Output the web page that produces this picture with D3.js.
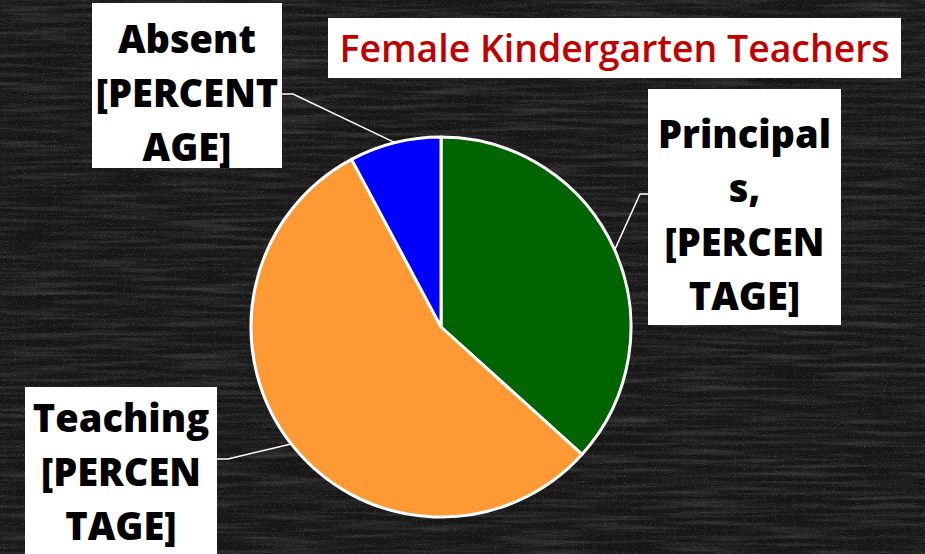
<!DOCTYPE html>
<html>
<head>
<meta charset="utf-8">
<script src="https://cdn.jsdelivr.net/npm/d3@7"></script>
<style>
  body { margin: 0; background: #1b1b1b; }
  svg { display: block; }
</style>
</head>
<body>
<div id="chart"></div>
<script>
// data
const categories = ["Principals", "Teaching", "Absent"];
const values = [36.7, 55.5, 7.8];
const colors = ["#006400", "#FF9933", "#0000FF"];
const labelLines = [
    ["Principal", "s,", "[PERCEN", "TAGE]"],
    ["Teaching", "[PERCEN", "TAGE]"],
    ["Absent", "[PERCENT", "AGE]"]
];
const title = "Female Kindergarten Teachers";

const w = 925, h = 554;
const cx = 441, cy = 327, radius = 190;
const fontSize = 38, lineHeight = 54;

// label box layout (x, y, width, height, leader y, elbow x, first baseline)
const boxes = [
    { x: 648, y: 89, bw: 193, bh: 236, ly: 194, ex: 640, base: 148 },
    { x: 25, y: 387, bw: 192, bh: 180, ly: 459, ex: 228, base: 432 },
    { x: 92, y: 3, bw: 190, bh: 165, ly: 94, ex: 293, base: 53 }
];

const svg = d3.select("#chart")
    .append("svg")
    .attr("width", w)
    .attr("height", h);

// chalkboard background
const defs = svg.append("defs");
const f = defs.append("filter").attr("id", "chalk")
    .attr("x", 0).attr("y", 0).attr("width", "100%").attr("height", "100%");
f.append("feTurbulence")
    .attr("type", "fractalNoise")
    .attr("baseFrequency", "0.012 0.22")
    .attr("numOctaves", 4)
    .attr("seed", 7)
    .attr("result", "noise");
f.append("feColorMatrix")
    .attr("in", "noise")
    .attr("type", "matrix")
    .attr("values", "0 0 0 0 1  0 0 0 0 1  0 0 0 0 1  0.9 0 0 0 -0.36");
const f2 = defs.append("filter").attr("id", "specks")
    .attr("x", 0).attr("y", 0).attr("width", "100%").attr("height", "100%");
f2.append("feTurbulence")
    .attr("type", "fractalNoise")
    .attr("baseFrequency", "0.9")
    .attr("numOctaves", 1)
    .attr("seed", 3)
    .attr("result", "n");
f2.append("feColorMatrix")
    .attr("in", "n")
    .attr("type", "matrix")
    .attr("values", "0 0 0 0 1  0 0 0 0 1  0 0 0 0 1  2.2 0 0 0 -1.25");

svg.append("rect").attr("width", w).attr("height", h).attr("fill", "#161616");
svg.append("rect").attr("width", w).attr("height", h).attr("filter", "url(#chalk)").attr("opacity", 0.32);
svg.append("rect").attr("width", w).attr("height", h).attr("filter", "url(#specks)").attr("opacity", 0.3);

// pie
const pie = d3.pie().sort(null).value(d => d);
const arcs = pie(values);
const arc = d3.arc().innerRadius(0).outerRadius(radius);

const g = svg.append("g").attr("transform", "translate(" + cx + "," + cy + ")");
g.selectAll("path")
    .data(arcs)
    .enter()
    .append("path")
    .attr("d", arc)
    .attr("fill", (d, i) => colors[i])
    .attr("stroke", "#fff")
    .attr("stroke-width", 3)
    .attr("stroke-linejoin", "round");

// leader lines
svg.selectAll("polyline.leader")
    .data(arcs)
    .enter()
    .append("polyline")
    .attr("class", "leader")
    .attr("fill", "none")
    .attr("stroke", "#fff")
    .attr("stroke-width", 1.5)
    .attr("points", function (d, i) {
        const a = (d.startAngle + d.endAngle) / 2;
        const px = cx + radius * Math.sin(a);
        const py = cy - radius * Math.cos(a);
        const b = boxes[i];
        const bx = b.ex > b.x ? b.x + b.bw : b.x;
        return [[px, py], [b.ex, b.ly], [bx, b.ly]].join(" ");
    });

// label boxes
const lab = svg.selectAll("g.label")
    .data(arcs)
    .enter()
    .append("g")
    .attr("class", "label");
lab.append("rect")
    .attr("x", (d, i) => boxes[i].x)
    .attr("y", (d, i) => boxes[i].y)
    .attr("width", (d, i) => boxes[i].bw)
    .attr("height", (d, i) => boxes[i].bh)
    .attr("fill", "#fff");
lab.each(function (d, i) {
    const b = boxes[i];
    const t = d3.select(this).append("text")
        .attr("text-anchor", "middle")
        .style("font-family", "'Open Sans', sans-serif")
        .style("font-weight", 800)
        .style("font-size", fontSize + "px")
        .attr("fill", "#000");
    labelLines[i].forEach(function (line, k) {
        t.append("tspan")
            .attr("x", b.x + b.bw / 2)
            .attr("y", b.base + k * lineHeight)
            .text(line);
    });
});

// title
svg.append("rect")
    .attr("x", 328).attr("y", 18)
    .attr("width", 573).attr("height", 60)
    .attr("fill", "#fff");
const tt = svg.append("text")
    .attr("x", 614.5)
    .attr("y", 62)
    .attr("text-anchor", "middle")
    .style("font-family", "'Open Sans', sans-serif")
    .style("font-weight", 600)
    .style("font-size", "40px")
    .attr("fill", "#C00000")
    .text(title);
// shrink title to the width of the original
const tw = tt.node().getComputedTextLength();
tt.style("font-size", (40 * 550 / tw) + "px");
</script>
</body>
</html>
